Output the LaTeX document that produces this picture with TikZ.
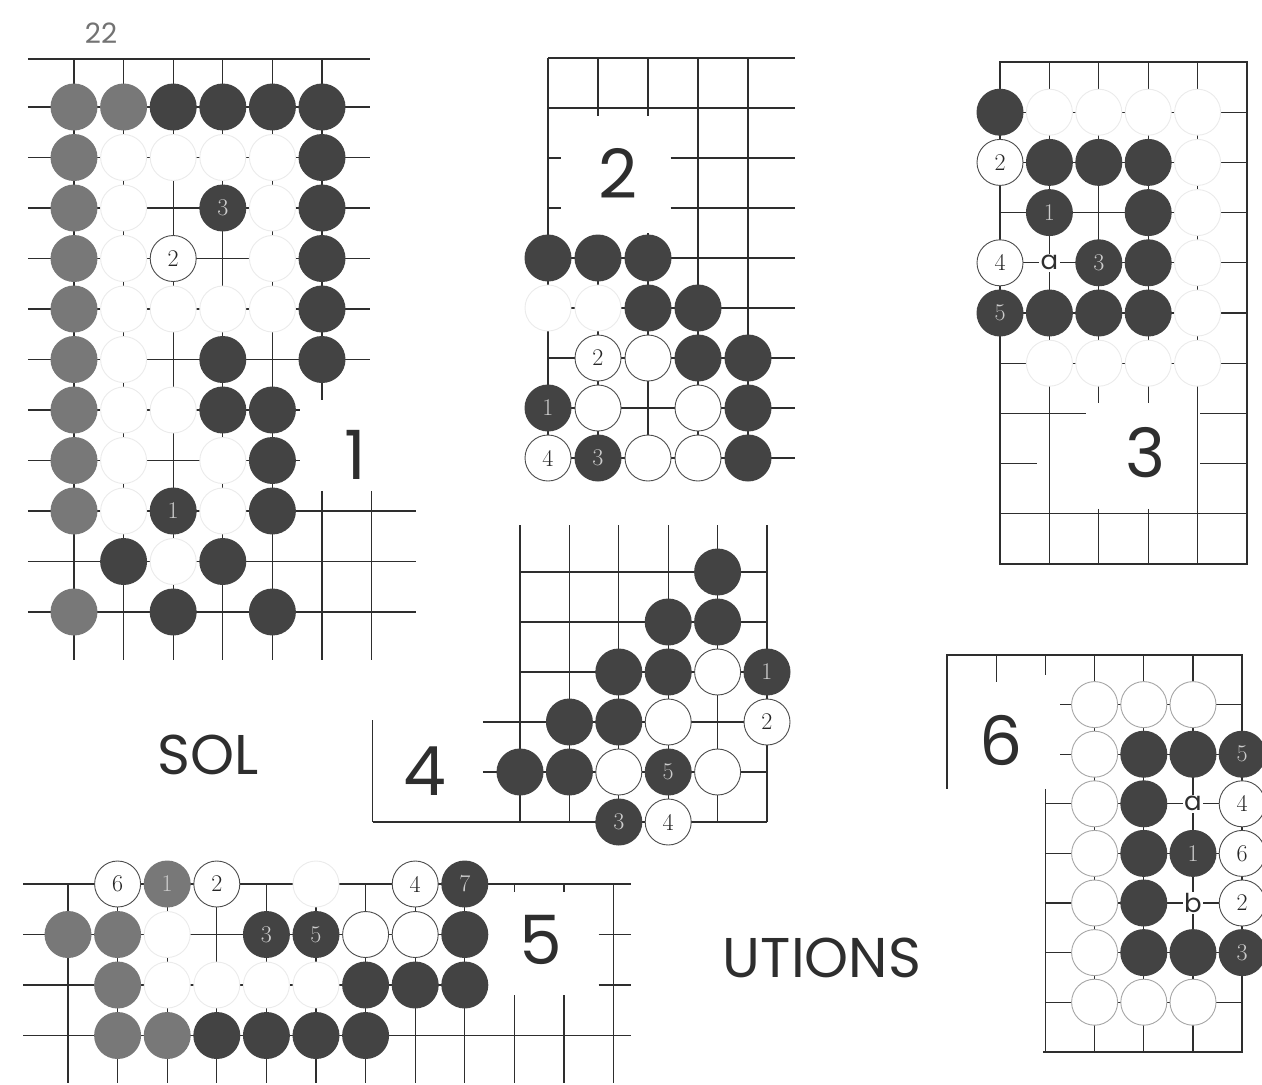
\documentclass[tikz,border=0pt]{standalone}
\usepackage{fontspec}
\newfontfamily\gofont{Poppins}
\definecolor{stnblk}{HTML}{434343}
\definecolor{stngry}{HTML}{787878}
\definecolor{inkgry}{HTML}{2E2E2E}

\begin{document}
\begin{tikzpicture}[x=1pt,y=-1pt,
  gline/.style={draw=inkgry,line width=1.1pt},
  gedge/.style={draw=inkgry,line width=2.2pt},
  bst/.style={circle,fill=stnblk,minimum size=47pt,inner sep=0pt,
    font=\fontsize{24}{24}\selectfont,text=white!80!black},
  gst/.style={bst,fill=stngry},
  wst/.style={circle,draw=black!70,line width=0.9pt,fill=white,minimum size=46pt,
    inner sep=0pt,font=\fontsize{24}{24}\selectfont,text=black!85},
  lwst/.style={wst,draw=black!35},
  ghost/.style={wst,draw=black!8},
  num/.style={font=\gofont\fontsize{68}{68}\selectfont,text=inkgry,inner sep=0pt},
  spot/.style={font=\gofont\fontsize{26}{26}\selectfont,text=inkgry,fill=white,inner sep=1.5pt},
  title/.style={font=\gofont\fontsize{56}{56}\selectfont,text=inkgry}]
  \useasboundingbox (0,0) rectangle (1262,1085);

  % page number and heading
  \node[font=\gofont\fontsize{28}{28}\selectfont,text=black!55] (page) at (101,33) {22};
  \node[title] (sol) at (208,755) {SOL};
  \node[title] (utions) at (822,958) {UTIONS};

  % problem 1
  \begin{scope}[shift={(74,107)},x=49.6pt,y=-50.5pt]
    \draw[gedge] (-0.93,-0.95) -- (5.97,-0.95);
    \foreach \r in {0,...,5} \draw[gline] (-0.93,\r) -- (5.97,\r);
    \foreach \r in {6,7} \draw[gline] (-0.93,\r) -- (4.55,\r);
    \foreach \r in {8,9,10} \draw[gline] (-0.93,\r) -- (6.9,\r);
    \foreach \c in {0,...,4} \draw[gline] (\c,-0.95) -- (\c,10.95);
    \draw[gline] (5,-0.95) -- (5,5.8) (5,7.6) -- (5,10.95);
    \draw[gline] (6,7.6) -- (6,10.95);
    \foreach \c/\r in {0/0,1/0,0/1,0/2,0/3,0/4,0/5,0/6,0/7,0/8,0/10}
      \node[gst] (p1-\c-\r) at (\c,\r) {};
    \foreach \c/\r in {2/0,3/0,4/0,5/0,5/1,5/2,5/3,5/4,3/5,5/5,3/6,4/6,4/7,4/8,1/9,3/9,2/10,4/10}
      \node[bst] (p1-\c-\r) at (\c,\r) {};
    \foreach \c/\r in {1/1,2/1,3/1,4/1,1/2,4/2,1/3,4/3,1/4,2/4,3/4,4/4,1/5,1/6,2/6,1/7,3/7,1/8,3/8,2/9}
      \node[ghost] (p1-\c-\r) at (\c,\r) {};
    \node[bst] (p1-3-2) at (3,2) {3};
    \node[wst] (p1-2-3) at (2,3) {2};
    \node[bst] (p1-2-8) at (2,8) {1};
  \end{scope}
  \node[num] (lab1) at (355,455) {1};

  % problem 2
  \begin{scope}[shift={(548,58)},x=50pt,y=-50pt]
    \foreach \r in {0,1,4,5,6,7,8} \draw[gline] (0,\r) -- (4.94,\r);
    \foreach \r in {2,3} \draw[gline] (0,\r) -- (0.25,\r) (2.45,\r) -- (4.94,\r);
    \draw[gedge] (0,0) -- (0,8.45);
    \draw[gline] (1,0) -- (1,1.15) (1,4) -- (1,8.45);
    \draw[gline] (2,0) -- (2,1.15) (2,3.5) -- (2,8.45);
    \foreach \c in {3,4} \draw[gline] (\c,0) -- (\c,8.45);
    \foreach \c/\r in {0/4,1/4,2/4,2/5,3/5,3/6,4/6,4/7,4/8}
      \node[bst] (p2-\c-\r) at (\c,\r) {};
    \foreach \c/\r in {2/6,1/7,3/7,2/8,3/8}
      \node[wst] (p2-\c-\r) at (\c,\r) {};
    \foreach \c/\r in {0/5,1/5}
      \node[ghost] (p2-\c-\r) at (\c,\r) {};
    \node[wst] (p2-1-6) at (1,6) {2};
    \node[bst] (p2-0-7) at (0,7) {1};
    \node[wst] (p2-0-8) at (0,8) {4};
    \node[bst] (p2-1-8) at (1,8) {3};
  \end{scope}
  \node[num] (lab2) at (618,173) {2};

  % problem 3
  \begin{scope}[shift={(1000,62)},x=49.4pt,y=-50.2pt]
    \foreach \r in {1,...,6,9} \draw[gline] (0,\r) -- (5,\r);
    \draw[gline] (0,7) -- (1.75,7) (4.05,7) -- (5,7);
    \draw[gline] (0,8) -- (0.75,8) (4.05,8) -- (5,8);
    \foreach \c in {1,4} \draw[gline] (\c,0) -- (\c,10);
    \foreach \c in {2,3} \draw[gline] (\c,0) -- (\c,6.8) (\c,8.9) -- (\c,10);
    \draw[gedge] (0,0) rectangle (5,10);
    \foreach \c/\r in {0/1,1/2,2/2,3/2,3/3,3/4,1/5,2/5,3/5}
      \node[bst] (p3-\c-\r) at (\c,\r) {};
    \foreach \c/\r in {1/1,2/1,3/1,4/1,4/2,4/3,4/4,4/5,1/6,2/6,3/6,4/6}
      \node[ghost] (p3-\c-\r) at (\c,\r) {};
    \node[wst] (p3-0-2) at (0,2) {2};
    \node[bst] (p3-1-3) at (1,3) {1};
    \node[wst] (p3-0-4) at (0,4) {4};
    \node[bst] (p3-2-4) at (2,4) {3};
    \node[bst] (p3-0-5) at (0,5) {5};
    \node[spot] (p3-a) at (1,4) {a};
  \end{scope}
  \node[num] (lab3) at (1146,453) {3};

  % problem 4
  \begin{scope}[shift={(520,572)},x=49.4pt,y=-50pt]
    \foreach \r in {0,1,2} \draw[gline] (0,\r) -- (5,\r);
    \foreach \r in {3,4} \draw[gline] (-0.75,\r) -- (5,\r);
    \foreach \c in {0,...,4} \draw[gline] (\c,-0.94) -- (\c,5);
    \draw[gedge] (5,-0.94) -- (5,5);
    \draw[gedge] (-2.98,5) -- (5,5);
    \draw[gline] (-2.98,2.96) -- (-2.98,5);
    \foreach \c/\r in {4/0,3/1,4/1,2/2,3/2,1/3,2/3,0/4,1/4}
      \node[bst] (p4-\c-\r) at (\c,\r) {};
    \foreach \c/\r in {4/2,3/3,2/4,4/4}
      \node[wst] (p4-\c-\r) at (\c,\r) {};
    \node[bst] (p4-5-2) at (5,2) {1};
    \node[wst] (p4-5-3) at (5,3) {2};
    \node[bst] (p4-3-4) at (3,4) {5};
    \node[bst] (p4-2-5) at (2,5) {3};
    \node[wst] (p4-3-5) at (3,5) {4};
  \end{scope}
  \node[num] (lab4) at (425,771) {4};

  % problem 5
  \begin{scope}[shift={(68,884)},x=49.6pt,y=-50.5pt]
    \draw[gedge] (-0.9,0) -- (11.35,0);
    \foreach \r in {1,2} \draw[gline] (-0.9,\r) -- (8.35,\r) (10.7,\r) -- (11.35,\r);
    \draw[gline] (-0.9,3) -- (11.35,3);
    \foreach \c in {0,...,8,11} \draw[gline] (\c,0) -- (\c,3.95);
    \foreach \c in {9,10} \draw[gline] (\c,0) -- (\c,0.15) (\c,2.2) -- (\c,3.95);
    \foreach \c/\r in {0/1,1/1,1/2,1/3,2/3}
      \node[gst] (p5-\c-\r) at (\c,\r) {};
    \foreach \c/\r in {8/1,6/2,7/2,8/2,3/3,4/3,5/3,6/3}
      \node[bst] (p5-\c-\r) at (\c,\r) {};
    \foreach \c/\r in {6/1,7/1}
      \node[wst] (p5-\c-\r) at (\c,\r) {};
    \foreach \c/\r in {5/0,2/1,2/2,3/2,4/2,5/2}
      \node[ghost] (p5-\c-\r) at (\c,\r) {};
    \node[wst] (p5-1-0) at (1,0) {6};
    \node[gst] (p5-2-0) at (2,0) {1};
    \node[wst] (p5-3-0) at (3,0) {2};
    \node[wst] (p5-7-0) at (7,0) {4};
    \node[bst] (p5-8-0) at (8,0) {7};
    \node[bst] (p5-4-1) at (4,1) {3};
    \node[bst] (p5-5-1) at (5,1) {5};
  \end{scope}
  \node[num] (lab5) at (541,940) {5};

  % problem 6
  \begin{scope}[shift={(947,655)},x=49.2pt,y=-49.6pt]
    \foreach \r in {1,2} \draw[gline] (2.3,\r) -- (6,\r);
    \foreach \r in {3,...,7} \draw[gline] (2,\r) -- (6,\r);
    \draw[gline] (1,0) -- (1,0.55);
    \draw[gline] (2,0) -- (2,0.4) (2,2.7) -- (2,8);
    \foreach \c in {3,4,5} \draw[gline] (\c,0) -- (\c,8);
    \draw[gedge] (0,2.7) -- (0,0) -- (6,0) -- (6,8) -- (1.95,8);
    \foreach \c/\r in {4/2,5/2,4/3,4/4,4/5,4/6,5/6}
      \node[bst] (p6-\c-\r) at (\c,\r) {};
    \foreach \c/\r in {3/1,4/1,5/1,3/2,3/3,3/4,3/5,3/6,3/7,4/7,5/7}
      \node[lwst] (p6-\c-\r) at (\c,\r) {};
    \node[bst] (p6-6-2) at (6,2) {5};
    \node[wst] (p6-6-3) at (6,3) {4};
    \node[bst] (p6-5-4) at (5,4) {1};
    \node[wst] (p6-6-4) at (6,4) {6};
    \node[wst] (p6-6-5) at (6,5) {2};
    \node[bst] (p6-6-6) at (6,6) {3};
    \node[spot] (p6-a) at (5,3) {a};
    \node[spot] (p6-b) at (5,5) {b};
  \end{scope}
  \node[num] (lab6) at (1001,740) {6};
\end{tikzpicture}
\end{document}
